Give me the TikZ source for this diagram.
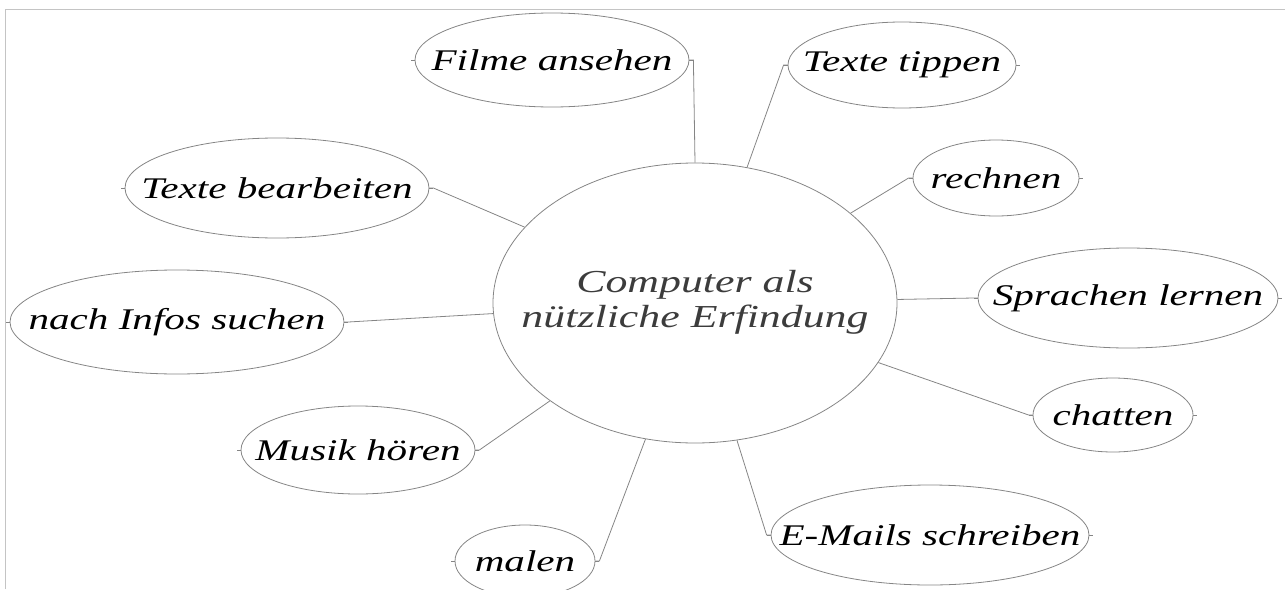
\documentclass[tikz,border=0pt]{standalone}
\usepackage{fontspec}
\newfontfamily\hand[FakeStretch=1.37]{Liberation Serif}
\usetikzlibrary{shapes.geometric}
\definecolor{linegray}{HTML}{858585}
\definecolor{framegray}{HTML}{C4C4C4}
\definecolor{centertext}{HTML}{3C3C3C}
\newcommand{\zw}[1]{\makebox[0pt]{#1}}
\tikzset{
  bubble/.style={ellipse, draw=linegray, line width=0.8pt, inner sep=0pt,
    font=\hand\itshape\fontsize{30}{36}\selectfont, text=black},
  hub/.style={bubble, font=\hand\itshape\fontsize{32}{37}\selectfont, text=centertext},
  conn/.style={draw=linegray, line width=0.8pt},
  frame/.style={draw=framegray, line width=0.8pt}
}
\begin{document}
\begin{tikzpicture}[x=1pt,y=-1pt]
\useasboundingbox (0,0) rectangle (1285,589);
\draw[frame] (5,589) -- (5,9) -- (1285,9);

\node[hub, minimum width=404pt, minimum height=280pt] (c) at (695,303)
  {\zw{\begin{tabular}{@{}c@{}}Computer als\\[-2pt]nützliche Erfindung\end{tabular}}};

\node[bubble, minimum width=274pt, minimum height=94pt] (filme) at (552,60) {\zw{Filme ansehen}};
\node[bubble, minimum width=228pt, minimum height=86pt] (tippen) at (902,65) {\zw{Texte tippen}};
\node[bubble, minimum width=166pt, minimum height=76pt] (rechnen) at (996,178) {\zw{rechnen}};
\node[bubble, minimum width=304pt, minimum height=100pt] (bearb) at (277,188) {\zw{Texte bearbeiten}};
\node[bubble, minimum width=334pt, minimum height=104pt] (infos) at (177,322) {\zw{nach Infos suchen}};
\node[bubble, minimum width=300pt, minimum height=100pt] (sprachen) at (1128,298) {\zw{Sprachen lernen}};
\node[bubble, minimum width=160pt, minimum height=74pt] (chatten) at (1113,415) {\zw{chatten}};
\node[bubble, minimum width=234pt, minimum height=88pt] (musik) at (358,450) {\zw{Musik hören}};
\node[bubble, minimum width=140pt, minimum height=72pt] (malen) at (525,561) {\zw{malen}};
\node[bubble, minimum width=318pt, minimum height=100pt] (emails) at (930,535) {\zw{E-Mails schreiben}};

% connection-point stubs on both sides of every bubble
\foreach \n in {filme,tippen,rechnen,bearb,infos,sprachen,chatten,musik,malen,emails}
  \draw[conn] (\n.west) -- ++(-4,0) (\n.east) -- ++(4,0);

% connectors
\draw[conn] (filme.east) -- ++(4,0) -- (c.north);
\draw[conn] (tippen.west) -- ++(-4,0) -- (c.69.8);
\draw[conn] (rechnen.west) -- ++(-4,0) -- (c.30.1);
\draw[conn] (sprachen.west) -- ++(-4,0) -- (c.1.4);
\draw[conn] (chatten.west) -- ++(-4,0) -- (c.-18.8);
\draw[conn] (emails.west) -- ++(-4,0) -- (c.-73.2);
\draw[conn] (malen.east) -- ++(4,0) -- (c.-110.4);
\draw[conn] (musik.east) -- ++(4,0) -- (c.214.6);
\draw[conn] (infos.east) -- ++(4,0) -- (c.183.1);
\draw[conn] (bearb.east) -- ++(4,0) -- (c.156.4);
\end{tikzpicture}
\end{document}
